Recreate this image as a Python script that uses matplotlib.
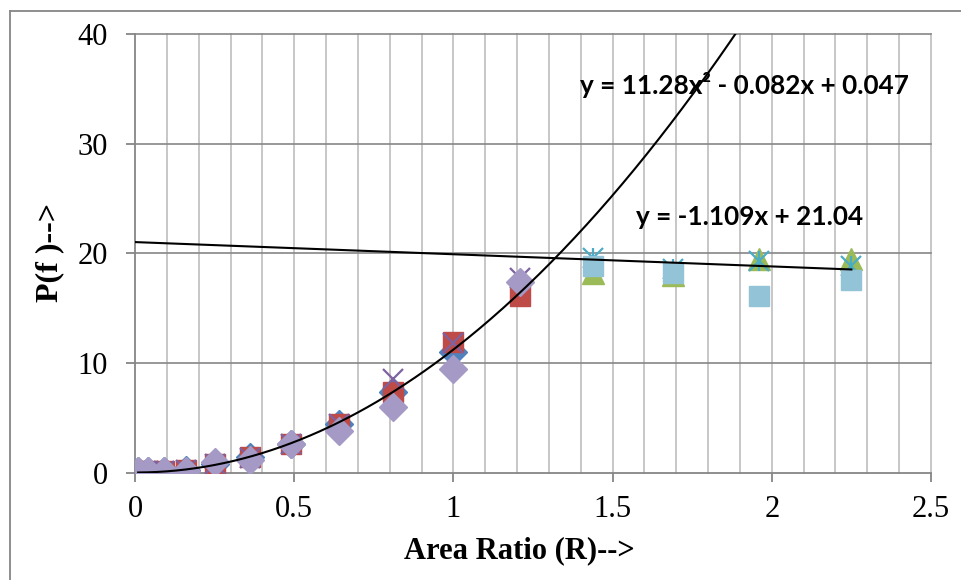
import matplotlib.pyplot as plt
from matplotlib.lines import Line2D
import numpy as np

# area ratios (R) for the two groups of runs
x_low = [0.01, 0.04, 0.09, 0.16, 0.25, 0.36, 0.49, 0.64, 0.81, 1.0, 1.21]
x_high = [1.44, 1.69, 1.96, 2.25]

# P(f) values
blue_diamond = [0.2, 0.2, 0.2, 0.3, 0.8, 1.5, 2.6, 4.5, 7.4, 11.0]
red_square = [0.2, 0.2, 0.2, 0.3, 0.8, 1.5, 2.6, 4.5, 7.4, 11.9, 16.1]
purple_x = [0.2, 0.2, 0.2, 0.3, 0.8, 1.4, 2.6, 4.5, 8.6, 11.8, 17.8]
lilac_diamond = [0.2, 0.2, 0.2, 0.2, 1.0, 1.2, 2.6, 3.8, 6.0, 9.5, 17.4]
green_triangle = [18.2, 18.0, 19.5, 19.5]
aqua_star = [19.6, 18.6, 19.3, 18.9]
light_square = [18.9, 18.2, 16.1, 17.6]

# trendline coefficients as printed on the chart
poly_coef = [11.28, -0.082, 0.047]
lin_coef = [-1.109, 21.04]

fig = plt.figure(figsize=(9.62, 5.8), dpi=100)
ax = fig.add_axes([135 / 962, 1 - 473 / 580, (931 - 135) / 962, (473 - 34) / 580])

grey = '#868686'

# grid: vertical every 0.1 (light), horizontal every 10 (darker)
for xv in np.arange(0.1, 2.51, 0.1):
    ax.axvline(xv, color='#BEBEBE', lw=1.2, zorder=0, clip_on=False)
for yv in [10, 20, 30, 40]:
    ax.axhline(yv, color=grey, lw=1.2, zorder=0, clip_on=False)

ax.plot(x_low[:10], blue_diamond, 'D', color='#4F81BD', ms=14, ls='none', zorder=3)
ax.plot(x_low, red_square, 's', color='#BE4B48', ms=15, ls='none', zorder=4)
ax.plot(x_high, green_triangle, '^', color='#9BBB59', ms=16, ls='none', zorder=4)
ax.plot(x_low, purple_x, 'x', color='#7E62A1', ms=15, mew=1.6, ls='none', zorder=5)
ax.plot(x_high, aqua_star, 'x', color='#4BACC6', ms=15, mew=1.6, ls='none', zorder=5)
ax.plot(x_high, aqua_star, '|', color='#4BACC6', ms=15, mew=1.6, ls='none', zorder=5)
ax.plot(x_low, lilac_diamond, 'D', color='#A59AC6', ms=14, ls='none', zorder=6)
ax.plot(x_high, light_square, 's', color='#93C3D6', ms=15, ls='none', zorder=6)

# trendlines
xp = np.linspace(0.01, 2.25, 300)
ax.plot(xp, np.polyval(poly_coef, xp), color='black', lw=1.5, zorder=7)
xl = np.array([0.0, 2.25])
ax.plot(xl, np.polyval(lin_coef, xl), color='black', lw=1.5, zorder=7)

ax.set_xlim(0, 2.5)
ax.set_ylim(0, 40)
ax.set_xticks([0, 0.5, 1, 1.5, 2, 2.5])
ax.set_xticklabels(['0', '0.5', '1', '1.5', '2', '2.5'])
ax.set_yticks([0, 10, 20, 30, 40])

for s in ['top', 'right']:
    ax.spines[s].set_visible(False)
for s in ['left', 'bottom']:
    ax.spines[s].set_color(grey)
    ax.spines[s].set_linewidth(1.3)
ax.tick_params(axis='both', colors=grey, length=6.5, width=1.3, labelcolor='black')
ax.tick_params(axis='x', pad=9)
ax.tick_params(axis='y', pad=13)
for lab in ax.get_xticklabels() + ax.get_yticklabels():
    lab.set_fontfamily('Liberation Serif')
    lab.set_fontsize(22)

fig.text(519 / 962, 1 - 551 / 580, 'Area Ratio (R)-->', ha='center', va='center',
         family='Liberation Serif', weight='bold', fontsize=22)
fig.text(50 / 962, 1 - 253 / 580, 'P(f )-->', ha='center', va='center', rotation=90,
         family='Liberation Serif', weight='bold', fontsize=23)

fig.text(744 / 962, 1 - 85 / 580, 'y = 11.28x² - 0.082x + 0.047', ha='center', va='center',
         family='Lato', weight='bold', fontsize=18.8)
fig.text(750 / 962, 1 - 217 / 580, 'y = -1.109x + 21.04', ha='center', va='center',
         family='Lato', weight='bold', fontsize=18.8)

# outer chart border (cut off on the right and bottom)
fig.add_artist(Line2D([10 / 962, 1.0], [1 - 11 / 580] * 2, color=grey, lw=1.3, transform=fig.transFigure))
fig.add_artist(Line2D([10 / 962] * 2, [0.0, 1 - 11 / 580], color=grey, lw=1.3, transform=fig.transFigure))

fig.savefig('out.png', dpi=100)
